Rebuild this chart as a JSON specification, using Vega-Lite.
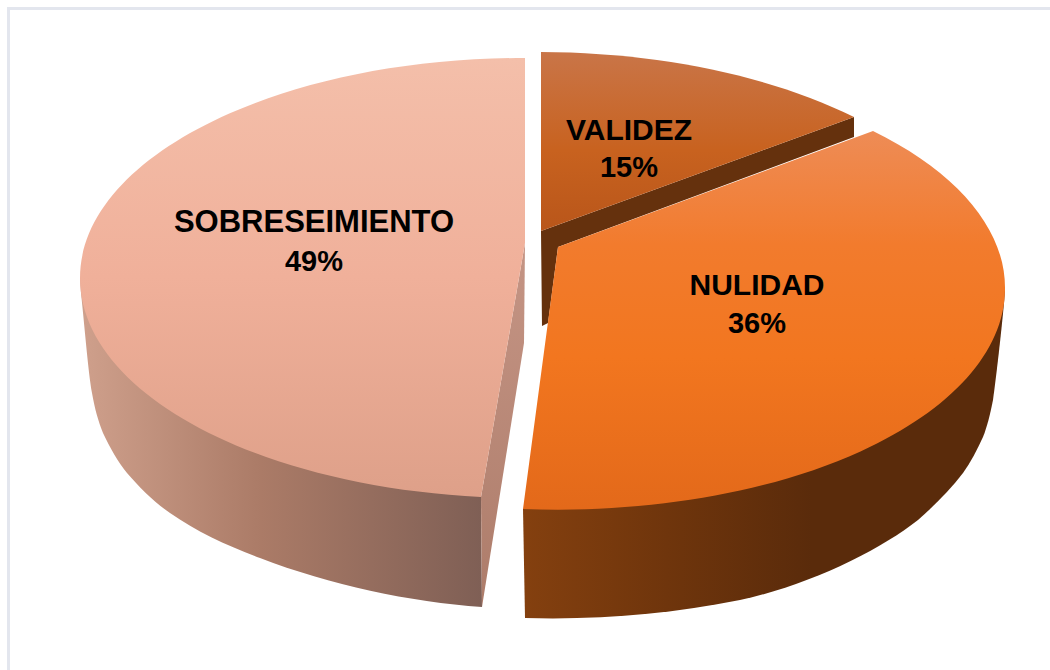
{
"$schema":"https://vega.github.io/schema/vega-lite/v6.json",
"width":1050,"height":670,"autosize":"none","padding":0,"background":"#ffffff",
"config":{"view":{"stroke":null},"text":{"font":"Liberation Sans","fontWeight":"bold","color":"#000000","align":"center","baseline":"alphabetic"}},
"data":{"values":[
{"category":"VALIDEZ","value":0.15},
{"category":"NULIDAD","value":0.36},
{"category":"SOBRESEIMIENTO","value":0.49}]},
"layer":[
{"transform":[{"filter":"datum.category==='VALIDEZ'"}],"mark":{"type":"point","filled":true,"opacity":1,"strokeWidth":0,"size":4,"fill":"#e3e6ee","shape":"M-518 -328 L525 -328 L525 -325 L-515 -325 L-515 335 L-518 335 Z"},"encoding":{}},
{"transform":[{"filter":"datum.category==='SOBRESEIMIENTO'"}],"mark":{"type":"point","filled":true,"opacity":1,"strokeWidth":0,"size":4,"fill":{"gradient":"linear","x1":0,"y1":0,"x2":1,"y2":0,"stops":[{"offset":0,"color":"#cfa08c"},{"offset":0.45,"color":"#ab7b67"},{"offset":1,"color":"#7f5f55"}]},"shape":"M-445 -57 L-444 -42 C-440 -5 -437 35 -433 58 C-430 75 -427 85 -422 98 C-415 113 -407 127 -398 138 C-385 153 -371 167 -355 178 C-328 197 -297 211 -265 223 C-195 250 -115 267 -43 272 L-44 162 Z"},"encoding":{}},
{"transform":[{"filter":"datum.category==='SOBRESEIMIENTO'"}],"mark":{"type":"point","filled":true,"opacity":1,"strokeWidth":0,"size":4,"fill":{"gradient":"linear","x1":0,"y1":0,"x2":0,"y2":1,"stops":[{"offset":0,"color":"#c59585"},{"offset":1,"color":"#ad7c6a"}]},"shape":"M0 -92 L-44 162 L-43 272 L-1 8 Z"},"encoding":{}},
{"transform":[{"filter":"datum.category==='SOBRESEIMIENTO'"}],"mark":{"type":"point","filled":true,"opacity":1,"strokeWidth":0,"size":4,"fill":{"gradient":"linear","x1":0,"y1":0,"x2":0,"y2":1,"stops":[{"offset":0,"color":"#f4bfaa"},{"offset":0.5,"color":"#f0b09a"},{"offset":1,"color":"#dea089"}]},"shape":"M0 -277 A445 220 0 0 0 -445 -57 A445 220 0 0 0 -44 162 L0 -92 Z"},"encoding":{}},
{"transform":[{"filter":"datum.category==='VALIDEZ'"}],"mark":{"type":"point","filled":true,"opacity":1,"strokeWidth":0,"size":4,"fill":"#65310d","shape":"M16 -104 L329 -218 L329 -198 L33 -88 L23 -12 L17 -9 Z"},"encoding":{}},
{"transform":[{"filter":"datum.category==='VALIDEZ'"}],"mark":{"type":"point","filled":true,"opacity":1,"strokeWidth":0,"size":4,"fill":{"gradient":"linear","x1":0,"y1":0,"x2":0,"y2":1,"stops":[{"offset":0,"color":"#c97548"},{"offset":0.55,"color":"#c8621f"},{"offset":1,"color":"#b9561a"}]},"shape":"M16 -283 A447 222 0 0 1 329 -218 L16 -104 Z"},"encoding":{}},
{"transform":[{"filter":"datum.category==='NULIDAD'"}],"mark":{"type":"point","filled":true,"opacity":1,"strokeWidth":0,"size":4,"fill":{"gradient":"linear","x1":0,"y1":0,"x2":1,"y2":0,"stops":[{"offset":0,"color":"#84400f"},{"offset":0.3,"color":"#6f350c"},{"offset":0.6,"color":"#5a2b0b"},{"offset":1,"color":"#5a2b0b"}]},"shape":"M480 -45 L479 -32 C476 0 472 35 468 65 C465 80 462 92 458 102 C452 115 446 127 438 138 C425 155 410 170 393 185 C355 215 285 250 215 265 C145 279 75 285 0 283 L-2 174 Z"},"encoding":{}},
{"transform":[{"filter":"datum.category==='NULIDAD'"}],"mark":{"type":"point","filled":true,"opacity":1,"strokeWidth":0,"size":4,"fill":{"gradient":"linear","x1":0,"y1":0,"x2":0,"y2":1,"stops":[{"offset":0,"color":"#ee8c56"},{"offset":0.3,"color":"#f27b2d"},{"offset":0.6,"color":"#f2761f"},{"offset":1,"color":"#e3691a"}]},"shape":"M33 -88 L348 -204 A447 221 0 0 1 480 -45 A447 221 0 0 1 -2 174 Z"},"encoding":{}},
{"transform":[{"filter":"datum.category==='VALIDEZ'"}],"mark":{"type":"text","fontSize":30,"dx":104,"dy":-195},"encoding":{"text":{"field":"category"}}},
{"transform":[{"filter":"datum.category==='VALIDEZ'"}],"mark":{"type":"text","fontSize":29,"dx":104,"dy":-158},"encoding":{"text":{"field":"value","type":"quantitative","format":".0%"}}},
{"transform":[{"filter":"datum.category==='NULIDAD'"}],"mark":{"type":"text","fontSize":30,"dx":232,"dy":-40},"encoding":{"text":{"field":"category"}}},
{"transform":[{"filter":"datum.category==='NULIDAD'"}],"mark":{"type":"text","fontSize":29,"dx":232,"dy":-2},"encoding":{"text":{"field":"value","type":"quantitative","format":".0%"}}},
{"transform":[{"filter":"datum.category==='SOBRESEIMIENTO'"}],"mark":{"type":"text","fontSize":31,"dx":-211,"dy":-103},"encoding":{"text":{"field":"category"}}},
{"transform":[{"filter":"datum.category==='SOBRESEIMIENTO'"}],"mark":{"type":"text","fontSize":29,"dx":-211,"dy":-64},"encoding":{"text":{"field":"value","type":"quantitative","format":".0%"}}}
]
}
